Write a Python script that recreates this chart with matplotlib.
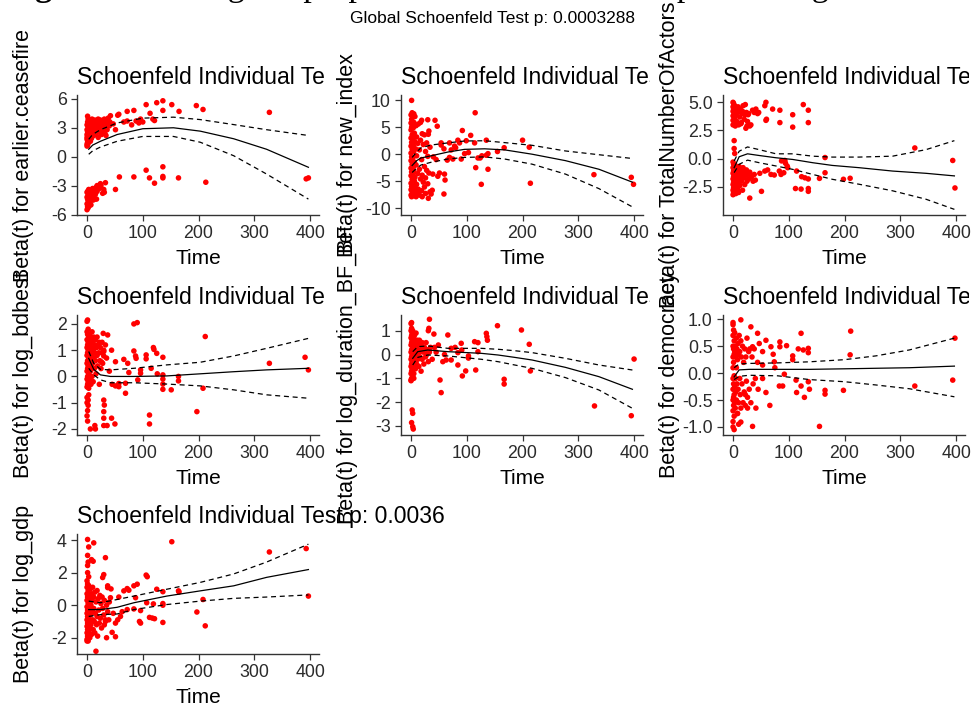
import numpy as np
import matplotlib
matplotlib.use('Agg')
import matplotlib.pyplot as plt
from matplotlib.ticker import FormatStrFormatter
from matplotlib.transforms import Bbox, TransformedBbox

# ---- data (time, scaled Schoenfeld residual) ----
ceasefire_pts = [
    (0, 1.3), (0, 1.8), (0, 2.3), (0, 2.8), (0, 3.3), (1, 1.5), (1, 2.6), (1, 3.6), (2, 2.0), (2, 3.0),
    (2, 3.9), (3, 1.7), (3, 2.5), (4, 3.2), (5, 2.1), (5, 3.7), (6, 2.8), (7, 3.4), (8, 2.3), (9, 3.9),
    (10, 3.1), (11, 2.6), (12, 3.6), (13, 3.0), (14, 3.8), (15, 2.4), (16, 3.3), (17, 3.7), (18, 2.9),
    (19, 3.5), (20, 3.9), (21, 3.0), (22, 2.6), (23, 3.4), (24, 3.8), (25, 2.9), (27, 3.3), (28, 3.6),
    (30, 2.6), (31, 3.9), (33, 3.1), (35, 3.5), (36, 2.8), (38, 4.0), (40, 3.2), (0, 1.1), (1, 1.2),
    (2, 1.4), (0, 2.0), (1, 2.2), (3, 2.1), (4, 1.9), (6, 1.6), (8, 1.9), (10, 2.4), (12, 2.2), (14, 2.9),
    (18, 2.5), (20, 2.0), (26, 2.3), (32, 2.4), (37, 3.8), (41, 3.6), (34, 2.2), (29, 3.0),
    (1, 4.2), (42, 4.25), (57, 4.4), (55, 4.3), (72, 4.7), (84, 4.8), (88, 3.7), (72, 3.7), (66, 3.6),
    (51, 2.8), (96, 3.9), (106, 5.4), (113, 4.5), (118, 3.9), (121, 3.75), (125, 5.6), (136, 5.8),
    (136, 4.8), (152, 5.4), (165, 4.7), (196, 5.3), (208, 4.9), (327, 4.6), (100, 3.6), (93, 3.5),
    (80, 3.3), (47, 3.4),
    (0, -5.5), (0, -4.9), (0, -4.2), (1, -5.2), (1, -3.6), (2, -4.6), (2, -5.3), (3, -4.0), (3, -3.4),
    (4, -4.8), (5, -4.3), (6, -3.7), (7, -5.0), (8, -3.5), (9, -4.1), (10, -3.3), (11, -4.5), (12, -3.8),
    (13, -3.6), (14, -4.4), (15, -3.9), (16, -3.2), (18, -3.6), (20, -3.1), (22, -3.3), (25, -3.0),
    (28, -3.8), (30, -3.4), (1, -4.4), (2, -3.9), (0, -3.7), (4, -5.1), (6, -4.6), (9, -3.7), (12, -4.2),
    (17, -4.4),
    (18, -3.0), (24, -2.8), (33, -2.7), (31, -3.7), (51, -3.4), (58, -2.1), (84, -2.1), (106, -1.4),
    (112, -2.2), (121, -2.75), (136, -1.05), (136, -2.05), (136, -2.2), (164, -2.2), (213, -2.65),
    (393, -2.3), (397, -2.2),
]
ceasefire_fit_t = [3, 10, 24, 54, 100, 155, 203, 263, 322, 397]
ceasefire_fit = [0.77, 1.2, 1.6, 2.3, 2.9, 3.0, 2.65, 1.86, 0.77, -1.1]
ceasefire_upper = [1.8, 2.3, 2.8, 3.5, 4.0, 4.1, 3.85, 3.33, 2.8, 2.2]
ceasefire_lower = [0.25, 0.6, 1.0, 1.6, 2.1, 2.1, 1.5, 0.1, -1.8, -4.4]

new_index_pts = [
    (0, 7.3), (0, 5.8), (0, 4.5), (0, 3.0), (0, 1.5), (0, 0.2), (0, -1.2), (0, -2.6), (0, -4.0), (0, -5.4),
    (0, -6.6), (0, -7.6), (1, 6.5), (1, 5.0), (1, 2.2), (1, -0.5), (1, -3.3), (1, -6.0), (1, -7.9),
    (2, 5.5), (2, 3.6), (2, 0.9), (2, -1.9), (2, -4.7), (2, -7.2), (3, 6.9), (3, 2.7), (3, -0.8),
    (3, -3.8), (3, -6.4), (4, 4.9), (4, 1.6), (4, -2.4), (4, -5.9), (4, -7.7), (5, 5.9), (5, 0.5),
    (5, -3.1), (5, -7.0), (6, 3.9), (6, -1.5), (6, -5.0), (7, 7.0), (7, 2.3), (7, -4.3), (7, -7.5),
    (8, 1.0), (8, -6.3), (9, 5.3), (9, -2.0), (9, -7.9), (10, 3.2), (10, -0.3), (10, -5.6), (12, 2.0),
    (12, -3.6), (12, -7.2), (13, 5.6), (13, -6.5), (15, 0.8), (15, -2.8), (15, -7.6), (17, 5.9),
    (17, 2.6), (17, -4.6), (19, 6.3), (19, -1.0), (19, -6.8), (20, 3.8), (20, -3.9), (20, -7.9),
    (22, 1.8), (22, -5.2), (24, 3.6), (24, -2.3), (24, -6.1), (26, 0.5), (26, -4.4), (26, -7.3),
    (28, 2.1), (28, -3.0), (30, 6.4), (30, -0.4), (30, -5.5), (32, 4.3), (32, -3.5), (34, 1.3), (34, -7.0),
    (1, 10.0), (2, 7.7), (5, 7.5), (43, 6.3), (47, 5.2), (31, 3.7), (54, 2.1), (54, 1.7), (69, 2.1),
    (84, 2.6), (87, 2.1), (92, 4.4), (99, 2.5), (107, 3.5), (114, 2.1), (115, 7.7), (116, -2.5),
    (120, -0.7), (124, -0.7), (127, -0.3), (126, -5.6), (135, 2.6), (138, 0.1), (138, -2.8), (135, -0.2),
    (155, 0.5), (167, 1.2), (200, 2.6), (212, 1.3), (214, -5.4), (328, -3.8), (395, -4.3), (399, -5.6),
    (59, 1.0), (60, -3.7), (59, -7.4), (61, -4.8), (48, -4.1), (51, -3.5), (39, -3.7), (36, -7.4),
    (31, -8.2), (38, -6.7), (69, -0.6), (75, -0.9), (80, 1.2), (90, -0.9), (96, 0.1), (40, -0.5),
    (45, -1.0), (65, -1.1), (103, 0.3), (72, 0.8), (78, 1.5),
]
new_index_fit_t = [2, 10, 18, 36, 66, 96, 132, 168, 217, 277, 337, 397]
new_index_fit = [-2.1, -1.2, -0.7, -0.3, 0.4, 0.9, 1.0, 0.8, 0.0, -1.2, -2.8, -5.2]
new_index_upper = [-0.6, 0.4, 1.2, 1.7, 2.1, 2.45, 2.5, 2.15, 1.65, 0.6, -0.1, -0.8]
new_index_lower = [-3.4, -2.6, -2.0, -1.5, -0.9, -0.6, -0.5, -0.9, -1.85, -3.7, -6.4, -9.8]

actors_pts = [
    (0, 5.0), (0, 4.6), (0, 4.2), (0, 3.8), (0, 3.4), (0, 3.0), (1, 4.9), (1, 4.4), (2, 3.1), (2, 4.0),
    (3, 4.7), (3, 3.6), (4, 4.3), (4, 2.9), (5, 3.9), (6, 4.5), (7, 3.3), (8, 4.1), (9, 4.6), (10, 3.0),
    (11, 4.2), (12, 3.7), (13, 4.4), (15, 3.2), (16, 4.0), (17, 4.2), (18, 4.7), (20, 3.5), (21, 3.9),
    (22, 4.8), (23, 2.7), (24, 4.1), (26, 3.3), (27, 3.9), (28, 4.0), (30, 2.9), (32, 3.0), (35, 4.3),
    (38, 4.1), (41, 4.4), (44, 4.0), (46, 4.1), (14, 3.1), (25, 2.9),
    (59, 5.0), (57, 4.7), (60, 3.5), (59, 3.4), (71, 4.4), (84, 4.3), (84, 3.2), (107, 3.9), (107, 2.8),
    (126, 4.8), (135, 4.3), (135, 3.2), (2, 1.6), (2, 0.9), (3, 0.46),
    (0, -0.3), (0, -0.8), (0, -1.3), (0, -1.8), (0, -2.3), (0, -2.8), (0, -3.2), (1, -0.5), (1, -1.1),
    (1, -1.6), (1, -2.1), (1, -2.6), (1, -3.0), (2, -0.9), (2, -1.4), (2, -1.9), (2, -2.4), (3, -1.2),
    (3, -2.0), (3, -2.9), (4, -0.6), (4, -1.5), (4, -2.2), (5, -1.0), (5, -1.8), (5, -3.1), (6, -1.3),
    (6, -2.5), (7, -0.8), (7, -1.9), (8, -1.4), (8, -2.7), (9, -1.0), (9, -2.2), (10, -1.6), (10, -3.0),
    (11, -0.7), (12, -1.2), (12, -2.4), (13, -1.8), (14, -1.0), (15, -2.0), (16, -1.4), (17, -2.8),
    (18, -0.8), (19, -1.7), (20, -1.2), (21, -2.3), (22, -1.5), (24, -1.0), (25, -2.0), (26, -1.4),
    (28, -1.8), (30, -1.2), (33, -1.6), (36, -2.0), (38, -1.4), (40, -1.9),
    (30, -3.5), (51, -2.9), (57, -1.1), (68, -1.4), (74, -1.45), (83, -1.1), (86, -1.4), (93, -0.16),
    (94, -0.4), (97, -0.65), (98, -0.8), (91, -1.25), (112, -2.65), (114, -1.1), (122, -2.7), (123, -1.6),
    (129, -1.7), (135, -1.8), (135, -2.65), (135, -2.9), (155, -1.75), (165, 0.1), (165, -1.25),
    (198, -1.83), (210, -1.74), (326, 0.95), (394, -0.16), (398, -2.6), (48, -1.3), (62, -1.0), (87, -0.2),
]
actors_fit_t = [2, 11, 26, 47, 77, 107, 143, 178, 226, 286, 346, 397]
actors_fit = [-0.8, 0.17, 0.43, 0.28, 0.08, -0.07, -0.36, -0.6, -0.8, -1.1, -1.3, -1.53]
actors_upper = [-0.2, 0.66, 1.04, 0.8, 0.43, 0.43, 0.22, 0.14, 0.14, 0.22, 0.8, 1.6]
actors_lower = [-1.24, -0.5, -0.13, -0.36, -0.65, -0.95, -1.4, -1.83, -2.27, -2.85, -3.6, -4.5]

bdbest_pts = [
    (0, 2.1), (0, 1.7), (0, 1.4), (0, 1.1), (0, 0.8), (0, 0.5), (0, 0.2), (0, -0.1), (0, -0.4), (1, 1.6),
    (1, 1.2), (1, 0.9), (1, 0.6), (1, 0.3), (1, 0.0), (1, -0.3), (2, 1.8), (2, 1.3), (2, 1.0), (2, 0.4),
    (2, -0.2), (3, 1.5), (3, 0.7), (3, 0.1), (3, -0.45), (4, 1.2), (4, 0.9), (4, 0.3), (5, 1.6), (5, 0.6),
    (5, -0.1), (6, 1.0), (6, 0.2), (7, 1.4), (7, 0.7), (7, -0.3), (8, 1.1), (8, 0.4), (9, 1.7), (9, 0.8),
    (9, 0.0), (10, 1.3), (10, 0.5), (11, 1.0), (11, -0.2), (12, 1.5), (12, 0.7), (13, 0.3), (14, 1.2),
    (14, 0.9), (15, 0.6), (15, 1.4), (16, 0.1), (17, 1.1), (18, 0.8), (18, 1.5), (19, 0.4), (20, 1.2),
    (21, 0.9), (22, 1.3), (23, 0.6), (24, 1.1), (25, 0.3), (26, 0.9), (27, 1.3), (28, 0.5), (30, 1.0),
    (0, -0.8), (0, -1.0), (1, -1.3), (0, -1.5), (1, -1.7), (2, -0.9), (2, -1.1), (3, -0.7),
    (1, 2.15), (29, 1.64), (37, 1.58), (33, 1.2), (30, 0.95), (44, 1.0), (30, 0.78), (35, 0.7), (26, 0.55),
    (51, 0.56), (66, 0.65), (73, 0.5), (84, 2.0), (90, 2.05), (84, 0.97), (87, 0.78), (88, 0.69),
    (96, 0.25), (96, 0.12), (106, 0.82), (106, 0.67), (115, 0.31), (119, 1.1), (120, 1.03), (125, 0.88),
    (126, 0.1), (136, 0.73), (136, 0.06), (136, -0.1), (136, -0.29), (136, -0.49), (151, -0.51),
    (164, 0.0), (164, -0.17), (91, -0.13), (51, -0.36), (57, -0.39), (57, -0.27), (69, -0.26), (69, -0.64),
    (50, -1.81), (44, -1.59), (36, -1.87), (30, -1.87), (30, -1.59), (30, -1.34), (31, -1.09), (30, -0.9),
    (112, -1.47), (112, -1.81), (197, -1.34), (212, 1.52), (208, -0.45), (327, 0.5), (391, 0.73),
    (397, 0.25), (6, -2.0), (15, -2.0), (14, -1.87), (40, 0.2), (45, -0.3), (22, -0.3), (75, 0.15),
]
bdbest_fit_t = [3, 12, 24, 42, 84, 143, 203, 263, 322, 397]
bdbest_fit = [0.69, 0.27, 0.06, 0.0, 0.0, 0.02, 0.1, 0.18, 0.25, 0.31]
bdbest_upper = [0.95, 0.5, 0.27, 0.25, 0.31, 0.44, 0.54, 0.78, 1.07, 1.45]
bdbest_lower = [0.31, 0.06, -0.13, -0.24, -0.24, -0.29, -0.36, -0.51, -0.7, -0.83]

duration_pts = [
    (0, 1.3), (0, 1.0), (0, 0.7), (0, 0.4), (0, 0.1), (0, -0.2), (0, -0.5), (0, -0.8), (0, -1.1), (1, 1.1),
    (1, 0.8), (1, 0.5), (1, 0.2), (1, -0.1), (1, -0.4), (1, -0.7), (1, -1.0), (2, 0.9), (2, 0.6), (2, 0.0),
    (2, -0.3), (2, -0.6), (3, 1.0), (3, 0.3), (3, -0.2), (3, -0.9), (4, 0.7), (4, 0.1), (4, -0.5), (5, 0.5),
    (5, -0.1), (5, -0.8), (6, 0.8), (6, 0.2), (7, -0.3), (7, 0.4), (8, 0.6), (8, -0.6), (9, 0.0), (9, 0.9),
    (10, 0.3), (10, -0.4), (11, 0.6), (12, -0.2), (12, 0.2), (13, 0.5), (14, -0.5), (15, 0.1), (15, 0.6),
    (16, -0.1), (17, 0.4), (18, -0.7), (18, 0.2), (20, 0.5), (20, -0.2), (22, 0.1), (23, -0.4), (24, 0.3),
    (26, -0.1), (27, 0.5), (28, 0.0), (30, 0.2), (31, -0.3), (33, 0.1), (35, 0.3),
    (1, 1.34), (33, 1.48), (32, 1.1), (31, 1.0), (41, 0.86), (66, 0.82), (49, 0.4), (72, 0.26), (79, 0.3),
    (84, 0.08), (90, 0.47), (91, 0.19), (103, -0.06), (103, -0.15), (114, 0.54), (120, 0.5), (120, 0.12),
    (135, 0.89), (136, 0.75), (137, 0.6), (155, 1.21), (198, 1.03), (212, 0.43), (214, -0.69), (52, -1.07),
    (54, -1.6), (63, -0.23), (72, -0.23), (84, -0.44), (92, -0.9), (98, -0.69), (116, -0.65), (167, -1.04),
    (167, -1.24), (329, -2.16), (395, -2.57), (400, -0.19), (2, -2.33), (3, -2.47), (1, -2.86), (3, -3.03),
    (4, -3.13), (0, -1.07), (5, -1.0), (45, 0.1), (57, -0.3), (60, 0.0), (38, -0.2), (42, 0.3),
]
duration_fit_t = [3, 12, 30, 66, 126, 156, 186, 217, 277, 337, 397]
duration_fit = [-0.16, 0.12, 0.19, 0.12, 0.05, -0.02, -0.12, -0.23, -0.54, -0.93, -1.46]
duration_upper = [0.12, 0.33, 0.36, 0.26, 0.26, 0.22, 0.16, 0.08, -0.16, -0.44, -0.65]
duration_lower = [-0.44, -0.12, -0.02, -0.06, -0.2, -0.3, -0.44, -0.58, -0.97, -1.49, -2.26]

democracy_pts = [
    (0, 0.9), (0, 0.7), (0, 0.5), (0, 0.3), (0, 0.1), (0, -0.1), (0, -0.3), (0, -0.5), (0, -0.7), (0, -0.9),
    (1, 0.8), (1, 0.45), (1, 0.2), (1, -0.2), (1, -0.45), (1, -0.6), (2, 0.6), (2, 0.35), (2, -0.05),
    (2, -0.4), (2, -0.8), (3, 0.75), (3, 0.4), (3, -0.25), (3, -0.55), (4, 0.5), (4, -0.1), (4, -0.65),
    (5, 0.3), (5, -0.35), (6, 0.65), (6, 0.1), (6, -0.5), (7, 0.45), (7, -0.2), (8, 0.25), (8, -0.75),
    (9, 0.55), (9, -0.3), (10, 0.35), (10, -0.55), (11, 0.7), (12, -0.1), (12, 0.4), (13, -0.4), (14, 0.6),
    (14, -0.65), (15, 0.3), (16, -0.2), (17, 0.5), (18, -0.55), (19, 0.2), (20, -0.35), (21, 0.45),
    (22, -0.6), (23, 0.3), (24, -0.15), (25, 0.65), (26, -0.45), (28, 0.4), (29, -0.3), (30, 0.45),
    (32, -0.55), (34, 0.3), (36, -0.2), (38, 0.45), (40, -0.1),
    (0, 0.94), (14, 0.99), (32, 0.86), (44, 0.74), (59, 0.61), (68, 0.49), (72, 0.35), (74, 0.21),
    (75, 0.1), (84, 0.58), (84, 0.49), (96, 0.51), (53, 0.4), (47, 0.55), (35, 0.49), (53, 0.15),
    (107, 0.32), (107, 0.25), (117, 0.45), (122, 0.74), (126, 0.43), (135, 0.46), (135, 0.38),
    (165, -0.32), (165, -0.39), (198, -0.32), (210, 0.34), (211, 0.78), (53, -0.1), (59, -0.36),
    (66, -0.6), (83, -0.24), (89, -0.24), (92, -0.02), (113, -0.13), (114, -0.36), (122, -0.24),
    (128, -0.45), (135, -0.16), (137, -0.3), (155, -0.99), (326, -0.24), (394, -0.13), (398, 0.65),
    (41, -0.65), (35, -0.99), (14, -0.91), (8, -0.75), (2, -1.05), (0, -1.0), (10, -0.95), (22, -0.4),
    (26, -0.65), (45, -0.3), (44, 0.2),
]
democracy_fit_t = [2, 11, 29, 80, 137, 200, 256, 316, 397]
democracy_fit = [-0.07, 0.06, 0.07, 0.07, 0.07, 0.08, 0.09, 0.1, 0.13]
democracy_upper = [0.1, 0.17, 0.18, 0.19, 0.21, 0.25, 0.32, 0.43, 0.65]
democracy_lower = [-0.12, -0.06, -0.04, -0.05, -0.12, -0.16, -0.22, -0.29, -0.44]

gdp_pts = [
    (0, 1.5), (0, 1.1), (0, 0.7), (0, 0.3), (0, -0.1), (0, -0.5), (0, -0.9), (0, -1.3), (0, -1.7), (0, -2.1),
    (1, 1.3), (1, 0.5), (1, -0.3), (1, -0.7), (1, -1.1), (1, -1.5), (1, -1.9), (2, 0.9), (2, 0.1), (2, -0.5),
    (2, -1.2), (2, -2.2), (3, 1.2), (3, 0.2), (3, -0.8), (3, -1.6), (4, 0.6), (4, -0.2), (4, -1.0), (5, 0.4),
    (5, -1.4), (5, -2.0), (6, 1.0), (6, -0.6), (7, 0.0), (7, -1.2), (8, 0.7), (8, -1.8), (9, -0.4), (9, 0.3),
    (10, -0.9), (10, 1.1), (11, -1.5), (12, 0.5), (12, -0.2), (13, -1.0), (14, 0.8), (14, -1.7), (15, -0.5),
    (16, 0.2), (17, -1.2), (18, 0.9), (18, -0.7), (19, -1.9), (20, 0.4), (21, -0.3), (22, -1.1), (23, 0.6),
    (24, -0.8), (25, 0.1), (26, -1.4), (27, 0.5), (28, -0.2), (30, -0.6), (31, 0.3), (33, -1.0), (35, 0.0),
    (37, -0.4), (39, -0.9), (40, 0.2),
    (1, 4.04), (3, 3.58), (1, 3.06), (2, 2.65), (1, 2.44), (3, 1.75), (11, 2.7), (12, 3.83), (33, 2.92),
    (30, 1.88), (37, 1.19), (37, 1.08), (42, 0.46), (57, 0.5), (66, 0.88), (72, 1.02), (75, 0.92),
    (84, 1.19), (90, 1.29), (87, 0.46), (106, 1.85), (108, 1.75), (125, 0.98), (136, 0.83), (136, 0.1),
    (136, 0.0), (164, 0.88), (165, 0.81), (152, 3.9), (208, 0.35), (212, -1.27), (197, -0.42), (327, 3.27),
    (393, 3.48), (397, 0.56), (51, -1.1), (45, -1.67), (51, -1.94), (35, -2.0), (16, -2.83), (31, -1.21),
    (33, -0.9), (60, -0.69), (72, -0.27), (94, -1.0), (96, -1.1), (112, -0.75), (117, -0.79), (121, -0.83),
    (136, -1.06), (107, 0.15), (119, 0.08), (96, -0.33), (84, -0.23), (47, -0.5), (55, -0.9), (63, -0.4),
    (0, -2.2), (1, 2.0), (8, 2.8), (28, 1.7), (43, 1.0),
]
gdp_fit_t = [3, 24, 54, 84, 143, 203, 263, 322, 397]
gdp_fit = [-0.27, -0.27, -0.13, 0.15, 0.56, 0.88, 1.19, 1.71, 2.19]
gdp_upper = [0.25, 0.15, 0.35, 0.56, 0.98, 1.4, 1.92, 2.65, 3.75]
gdp_lower = [-0.69, -0.58, -0.54, -0.27, 0.04, 0.25, 0.42, 0.5, 0.63]

x_ticks = [0, 100, 200, 300, 400]
global_title = 'Global Schoenfeld Test p: 0.0003288'
panel_title = 'Schoenfeld Individual Test'
last_title = 'Schoenfeld Individual Test p: 0.0036'

panels = [
    # row, col, points, fit t, fit, upper, lower, ylabel, yticks, ylim, decimals
    (0, 0, ceasefire_pts, ceasefire_fit_t, ceasefire_fit, ceasefire_upper, ceasefire_lower,
     'Beta(t) for earlier.ceasefire', [-6, -3, 0, 3, 6], (-6.05, 6.4), False),
    (0, 1, new_index_pts, new_index_fit_t, new_index_fit, new_index_upper, new_index_lower,
     'Beta(t) for new_index', [-10, -5, 0, 5, 10], (-11.3, 11.0), False),
    (0, 2, actors_pts, actors_fit_t, actors_fit, actors_upper, actors_lower,
     'Beta(t) for TotalNumberOfActors', [-2.5, 0, 2.5, 5], (-5.0, 5.65), True),
    (1, 0, bdbest_pts, bdbest_fit_t, bdbest_fit, bdbest_upper, bdbest_lower,
     'Beta(t) for log_bdbest', [-2, -1, 0, 1, 2], (-2.23, 2.34), False),
    (1, 1, duration_pts, duration_fit_t, duration_fit, duration_upper, duration_lower,
     'Beta(t) for log_duration_BF_BF', [-3, -2, -1, 0, 1], (-3.38, 1.66), False),
    (1, 2, democracy_pts, democracy_fit_t, democracy_fit, democracy_upper, democracy_lower,
     'Beta(t) for democracy', [-1, -0.5, 0, 0.5, 1], (-1.15, 1.08), True),
    (2, 0, gdp_pts, gdp_fit_t, gdp_fit, gdp_upper, gdp_lower,
     'Beta(t) for log_gdp', [-2, 0, 2, 4], (-3.0, 4.375), False),
]

plt.rcParams['font.family'] = ['Liberation Sans', 'DejaVu Sans']
plt.rcParams['axes.unicode_minus'] = False

W, H = 979, 703
fig = plt.figure(figsize=(W / 100, H / 100), dpi=100)

# panel geometry in pixels
col_left = [77, 401, 723]
col_clip = [325, 650, 969]
row_top = [95, 315, 534]
ax_w, ax_h = 242, 120
axis_col = '#333333'

for i, (r, c, pts, ft, fv, fu, fl, ylab, yt, yl, dec) in enumerate(panels):
    ax = fig.add_axes([col_left[c] / W, 1 - (row_top[r] + ax_h) / H, ax_w / W, ax_h / H])
    pts = np.array(pts)
    ax.scatter(pts[:, 0], pts[:, 1], s=16, color='#FF0000', edgecolors='none', zorder=2)
    ax.plot(ft, fv, color='black', lw=0.9, zorder=3)
    ax.plot(ft, fu, color='black', lw=0.9, ls=(0, (4, 3)), zorder=3)
    ax.plot(ft, fl, color='black', lw=0.9, ls=(0, (4, 3)), zorder=3)

    ax.set_xlim(-18, 416)
    ax.set_ylim(*yl)
    ax.set_xticks(x_ticks)
    ax.set_yticks(yt)
    if dec:
        ax.yaxis.set_major_formatter(FormatStrFormatter('%.1f'))
    for s in ['top', 'right']:
        ax.spines[s].set_visible(False)
    for s in ['left', 'bottom']:
        ax.spines[s].set_color(axis_col)
        ax.spines[s].set_linewidth(1.0)
    ax.tick_params(length=4, width=0.9, color=axis_col, labelsize=12.8, labelcolor='#2b2b2b')
    ax.set_xlabel('Time', fontsize=15, labelpad=5)
    ax.set_ylabel(ylab, fontsize=15.5, va='center')
    ax.yaxis.set_label_coords(-0.22, 0.5)

    if i < 6:
        t = ax.set_title(panel_title, loc='left', fontsize=16.5, pad=8)
        clip = TransformedBbox(Bbox.from_extents((col_left[c] - 20) / 100, 0, col_clip[c] / 100, H / 100),
                               fig.dpi_scale_trans)
        t.set_clip_box(clip)
        t.set_clip_on(True)
    else:
        ax.set_title(last_title, loc='left', fontsize=16.5, pad=8)

fig.text(493 / W, 1 - 19 / H, global_title, ha='center', va='center', fontsize=12.5)

# cut-off caption line above the figure (only descenders show)
cap_y = 1 + 4 / H
cap1 = fig.text(5 / W, cap_y, 'Figure 4:', fontsize=24.5, family='Liberation Serif',
                weight='bold', va='baseline', ha='left')
renderer = fig.canvas.get_renderer()
bb = cap1.get_window_extent(renderer)
fig.text((bb.x1 + 8) / W, cap_y,
         'Testing the proportional hazards assumption using Schoenfeld residuals',
         fontsize=24.5, family='Liberation Serif', va='baseline', ha='left')

fig.savefig('out.png', dpi=100)
